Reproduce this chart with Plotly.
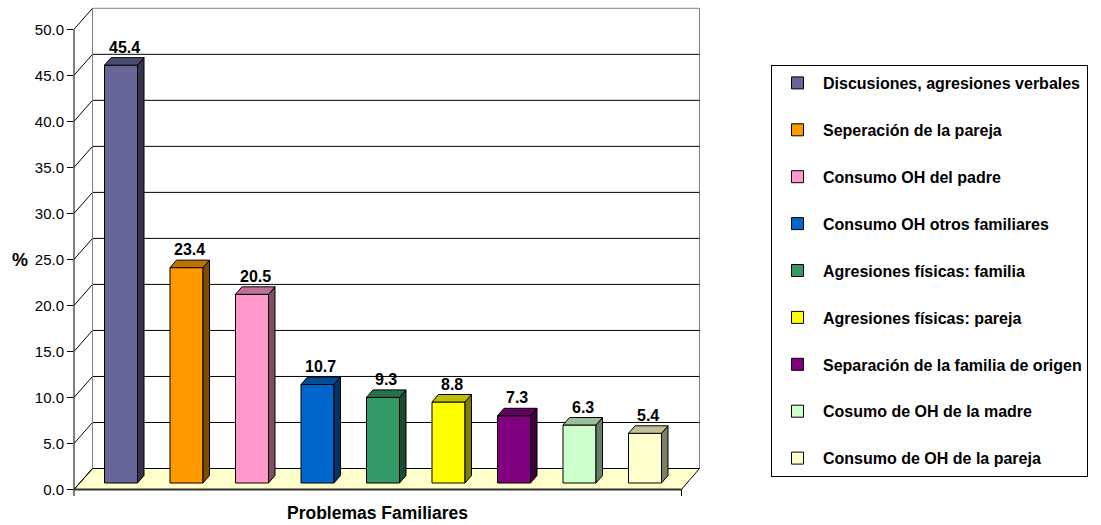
import plotly.graph_objects as go

# ---------------- data ----------------
categories = [
    "Discusiones, agresiones verbales",
    "Seperación de la pareja",
    "Consumo OH del padre",
    "Consumo OH otros familiares",
    "Agresiones físicas: familia",
    "Agresiones físicas: pareja",
    "Separación de la familia de origen",
    "Cosumo de OH de la madre",
    "Consumo de OH de la pareja",
]
values = [45.4, 23.4, 20.5, 10.7, 9.3, 8.8, 7.3, 6.3, 5.4]
colors = ["#666699", "#FF9900", "#FF99CC", "#0066CC", "#339966",
          "#FFFF00", "#800080", "#CCFFCC", "#FFFFCC"]
y_ticks = [0, 5, 10, 15, 20, 25, 30, 35, 40, 45, 50]
x_title = "Problemas Familiares"
y_title = "%"

# ---------------- geometry (layout constants) ----------------
W, H = 1101, 525
L, R, T, B = 74, 701, 7, 497          # plot area in px
Y0 = 489.5                            # px of front value 0
SY = 9.204                            # px per unit
X0, SX = 121.0, 65.5                  # px of bar 0 centre, px per bar
WALL_DX, WALL_DY = 18.0, 21.0         # depth of the 3D box (px)
BAR_W = 33.0 / SX                     # bar width (x units)
BAR_BASE = (Y0 - 483.0) / SY          # bars sit in a plane behind the front
BDX, BDY = 6.5 / SX, 7.5 / SY         # bar depth (units)

ymin, ymax = (Y0 - B) / SY, (Y0 - T) / SY
xmin, xmax = (L - X0) / SX, (R - X0) / SX


def px(xp):
    return (xp - L) / (R - L)


def py(yp):
    return (B - yp) / (B - T)


def yf(v):  # front-plane px of value v
    return Y0 - SY * v


def shade(hexc, f):
    r, g, b = (int(hexc[i:i + 2], 16) for i in (1, 3, 5))
    return "#%02X%02X%02X" % (int(r * f), int(g * f), int(b * f))


fig = go.Figure()

# front faces (real bars)
for i, (name, v, c) in enumerate(zip(categories, values, colors)):
    fig.add_trace(go.Bar(
        x=[i], y=[v], base=[BAR_BASE], width=[BAR_W], name=name,
        marker=dict(color=c, line=dict(color="#000000", width=1)),
        legendgroup="g%d" % i, hoverinfo="skip",
    ))

# side and top faces
for i, (v, c) in enumerate(zip(values, colors)):
    xr, xl = i + BAR_W / 2, i - BAR_W / 2
    b0, b1 = BAR_BASE, BAR_BASE + v
    fig.add_trace(go.Scatter(
        x=[xr, xr + BDX, xr + BDX, xr, xr],
        y=[b0, b0 + BDY, b1 + BDY, b1, b0],
        fill="toself", fillcolor=shade(c, 0.5), mode="lines",
        line=dict(color="#000000", width=1), showlegend=False, hoverinfo="skip"))
    fig.add_trace(go.Scatter(
        x=[xl, xr, xr + BDX, xl + BDX, xl],
        y=[b1, b1, b1 + BDY, b1 + BDY, b1],
        fill="toself", fillcolor=shade(c, 0.75), mode="lines",
        line=dict(color="#000000", width=1), showlegend=False, hoverinfo="skip"))

# data labels
annotations = []
for i, v in enumerate(values):
    annotations.append(dict(
        x=i + BDX / 2, y=BAR_BASE + v + BDY, xref="x", yref="y",
        text="<b>%.1f</b>" % v, showarrow=False, yanchor="bottom",
        font=dict(size=16, color="#000000")))

annotations.append(dict(
    x=px(377), y=py(513), xref="paper", yref="paper",
    text="<b>%s</b>" % x_title, showarrow=False,
    font=dict(size=17.5, color="#000000"), xanchor="center", yanchor="middle"))
annotations.append(dict(
    x=px(20), y=py(260), xref="paper", yref="paper",
    text="<b>%s</b>" % y_title, showarrow=False,
    font=dict(size=18, color="#000000"), xanchor="center", yanchor="middle"))

# ---------------- decor shapes (paper coords) ----------------
shapes = []
bl, br = L + WALL_DX + 0.5, R - 1.5   # back wall left/right px
fl, fr = L, br - WALL_DX             # front floor left/right px
top_b = yf(50) - WALL_DY
bot_b = Y0 - WALL_DY


def path(pts):
    return "M " + " L ".join("%.5f,%.5f" % (px(a), py(b)) for a, b in pts) + " Z"


# back wall
shapes.append(dict(type="path", xref="paper", yref="paper", layer="below",
                   path=path([(bl, top_b), (br, top_b), (br, bot_b), (bl, bot_b)]),
                   fillcolor="#FFFFFF", line=dict(color="#808080", width=1)))
# left wall
shapes.append(dict(type="path", xref="paper", yref="paper", layer="below",
                   path=path([(fl, yf(50)), (bl, top_b), (bl, bot_b), (fl, Y0)]),
                   fillcolor="#FFFFFF", line=dict(width=0)))
# floor
shapes.append(dict(type="path", xref="paper", yref="paper", layer="below",
                   path=path([(fl, Y0), (fr, Y0), (br, bot_b), (bl, bot_b)]),
                   fillcolor="#FFFFCC", line=dict(color="#000000", width=1)))
# gridlines
for v in y_ticks:
    if 0 < v < 50:
        shapes.append(dict(type="line", xref="paper", yref="paper", layer="below",
                           x0=px(bl), x1=px(br), y0=py(yf(v) - WALL_DY), y1=py(yf(v) - WALL_DY),
                           line=dict(color="#000000", width=1)))
    shapes.append(dict(type="line", xref="paper", yref="paper", layer="below",
                       x0=px(fl), x1=px(bl), y0=py(yf(v)), y1=py(yf(v) - WALL_DY),
                       line=dict(color="#000000", width=1)))
# left wall back edge (gray)
shapes.append(dict(type="line", xref="paper", yref="paper", layer="below",
                   x0=px(bl), x1=px(bl), y0=py(top_b), y1=py(bot_b),
                   line=dict(color="#808080", width=1)))
# front axis line
shapes.append(dict(type="line", xref="paper", yref="paper",
                   x0=px(L), x1=px(L), y0=py(yf(50)), y1=py(B - 1),
                   line=dict(color="#000000", width=1)))
# front floor edge and end tick
shapes.append(dict(type="line", xref="paper", yref="paper",
                   x0=px(fl), x1=px(fr), y0=py(Y0), y1=py(Y0),
                   line=dict(color="#333333", width=2)))
shapes.append(dict(type="line", xref="paper", yref="paper",
                   x0=px(fr), x1=px(fr), y0=py(Y0), y1=py(B - 1),
                   line=dict(color="#000000", width=1)))

fig.update_layout(
    width=W, height=H,
    margin=dict(l=L, r=W - R, t=T, b=H - B, pad=0),
    paper_bgcolor="#FFFFFF", plot_bgcolor="rgba(0,0,0,0)",
    barmode="overlay",
    font=dict(family="Liberation Sans, Arial, sans-serif", color="#000000"),
    xaxis=dict(range=[xmin, xmax], visible=False, fixedrange=True),
    yaxis=dict(range=[ymin, ymax], tickvals=y_ticks,
               ticktext=["%.1f" % t for t in y_ticks],
               showgrid=False, zeroline=False, showline=False,
               ticks="outside", ticklen=6, tickcolor="#000000", tickwidth=1,
               tickfont=dict(size=15, color="#000000"), fixedrange=True),
    showlegend=True,
    legend=dict(xref="container", yref="container", x=771 / W, y=1 - 65 / H,
                xanchor="left", yanchor="top", traceorder="grouped",
                tracegroupgap=23.1, itemwidth=41, bgcolor="#FFFFFF",
                bordercolor="#000000", borderwidth=1, maxheight=500,
                font=dict(size=16, weight="bold", color="#000000"),
                itemclick=False, itemdoubleclick=False),
    shapes=shapes, annotations=annotations,
)

fig.write_html("out.html")
